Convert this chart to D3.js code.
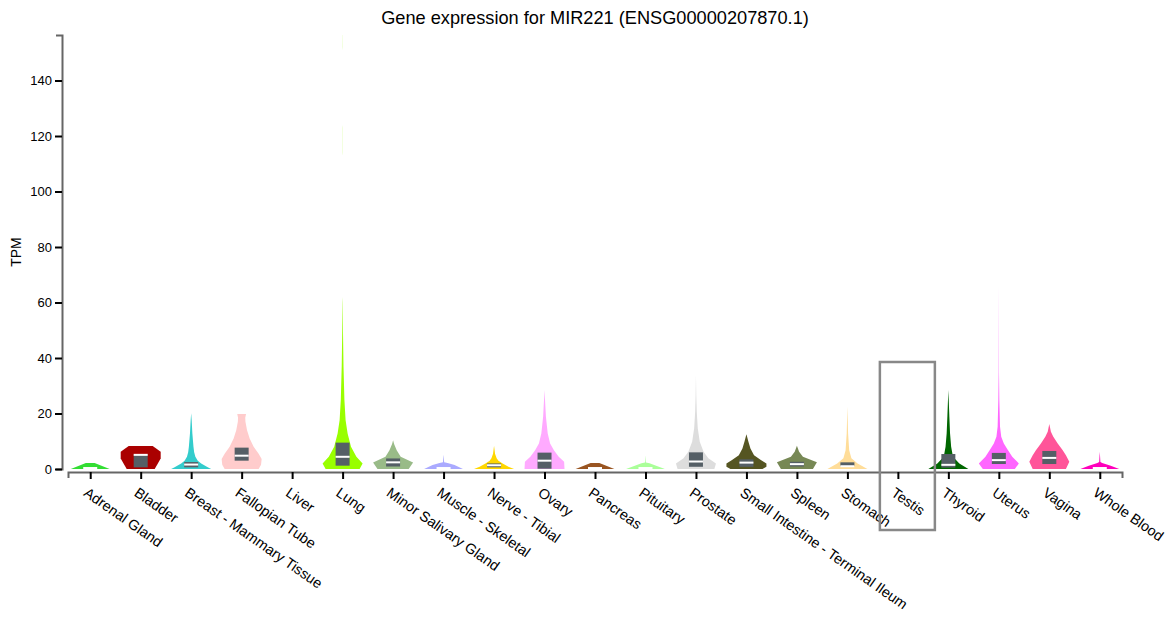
<!DOCTYPE html>
<html>
<head>
<meta charset="utf-8">
<script src="https://cdn.jsdelivr.net/npm/d3@7.9.0/dist/d3.min.js"></script>
<style>
  body { margin: 0; background: #fff; }
  svg { font-family: Arial, "Liberation Sans", sans-serif; }
</style>
</head>
<body>
<svg id="chart" width="1171" height="619"></svg>
<script>
// tissues, in plot order
const tissues = ['Adrenal Gland', 'Bladder', 'Breast - Mammary Tissue', 'Fallopian Tube', 'Liver', 'Lung',
  'Minor Salivary Gland', 'Muscle - Skeletal', 'Nerve - Tibial', 'Ovary', 'Pancreas', 'Pituitary', 'Prostate',
  'Small Intestine - Terminal Ileum', 'Spleen', 'Stomach', 'Testis', 'Thyroid', 'Uterus', 'Vagina', 'Whole Blood'];

const colors = ['#33dd33', '#aa0000', '#33cccc', '#ffcccc', '#aabb66', '#99ff00', '#99bb88', '#aaaaff', '#ffd700',
  '#ffaaff', '#995522', '#aaff99', '#dddddd', '#555522', '#778855', '#ffdd99', '#aaaaaa', '#006600', '#ff66ff',
  '#ff5599', '#ff00bb'];

// box stats (TPM), null = no samples drawn
const q1 =     [0.35, 0.6, 0.6, 3.0, null, 1.2, 0.9, 0.35, 0.6, 0.1, 0.35, 0.35, 0.8, 0.8, 0.9, 1.0, null, 0.5, 1.8, 1.8, 0.35];
const median = [0.35, 5.1, 1.6, 4.8, null, 4.4, 2.4, 0.35, 1.35, 3.0, 0.35, 0.35, 2.7, 2.3, 1.75, 1.0, null, 1.5, 3.2, 4.0, 0.35];
const q3 =     [0.35, 5.4, 2.5, 7.7, null, 9.5, 3.8, 0.35, 2.0, 5.9, 0.35, 0.35, 6.0, 3.5, 2.6, 2.4, null, 5.4, 5.8, 6.5, 0.35];

// violin outlines: [TPM, relative density]
const profiles = [
  [[0, 0.97], [2.2, 0.22]],
  [[0, 0.7], [3.8, 1], [6.2, 1], [8.3, 0.6]],
  [[0, 1], [0.5, 0.85], [2, 0.5], [3, 0.33], [4.4, 0.21], [6, 0.15], [8, 0.115], [12.8, 0.06], [17.6, 0.025], [20.1, 0]],
  [[0, 0.85], [1.5, 0.97], [3.6, 1], [5.5, 0.85], [8, 0.6], [11, 0.4], [14, 0.27], [17, 0.19], [18.5, 0.18], [19.8, 0.22]],
  [],
  [[0, 0.85], [2, 1], [4.4, 0.69], [8, 0.42], [12.8, 0.25], [17.6, 0.15], [25, 0.09], [37, 0.045], [49, 0.02], [60, 0.006],
    [62, 0], [113, 0], [114, 0.003], [123, 0.003], [124, 0], [151, 0], [152, 0.003], [156.4, 0.002]],
  [[0, 0.78], [2.3, 1], [4.4, 0.38], [6.8, 0.18], [9, 0.05], [10.4, 0]],
  [[0, 0.97], [1.4, 0.55], [2.2, 0.2], [2.4, 0.03], [5, 0.003]],
  [[0, 1], [0.8, 0.72], [2, 0.43], [3, 0.22], [3.85, 0.13], [5.5, 0.05], [8.4, 0]],
  [[0, 1], [2.6, 0.98], [4.4, 0.71], [6.8, 0.47], [9.2, 0.28], [12.8, 0.16], [18.8, 0.07], [24.9, 0.025], [28.5, 0]],
  [[0, 0.97], [2.2, 0.22]],
  [[0, 0.97], [2.1, 0.2], [2.3, 0.02], [5, 0]],
  [[0, 0.92], [2, 1], [3.9, 0.62], [6.2, 0.38], [9.8, 0.19], [14.7, 0.09], [20.6, 0.04], [26.7, 0.015], [34, 0]],
  [[0, 0.8], [0.8, 1], [2, 1], [3.2, 0.72], [5, 0.38], [7.4, 0.2], [9.8, 0.1], [12.5, 0]],
  [[0, 0.8], [2.4, 1], [4.4, 0.3], [6.2, 0.11], [8.4, 0]],
  [[0, 1], [2, 0.51], [3.85, 0.2], [6.8, 0.09], [12.8, 0.035], [22.5, 0]],
  [],
  [[0, 1], [2, 0.55], [4.4, 0.23], [8, 0.14], [12.8, 0.085], [18.8, 0.05], [28.5, 0]],
  [[0, 0.8], [2, 1], [4.4, 0.67], [6.8, 0.46], [9.2, 0.25], [11.6, 0.12], [15.2, 0.06], [24.9, 0.025], [35, 0.008], [66, 0]],
  [[0, 0.83], [2.6, 1], [5, 0.83], [6.8, 0.67], [9.2, 0.42], [11.6, 0.2], [13.4, 0.08], [16.2, 0]],
  [[0, 0.97], [1.2, 0.55], [2.2, 0.12], [2.5, 0.03], [6.2, 0]]
];

const yTicks = [0, 20, 40, 60, 80, 100, 120, 140];
const maxTPM = 156.4;
const title = 'Gene expression for MIR221 (ENSG00000207870.1)';
const highlighted = 'Testis';

const svg = d3.select('#chart');

const x = d3.scalePoint().domain(tissues).range([68, 1122]).padding(0.44);
const y = d3.scaleLinear().domain([0, maxTPM]).range([469, 35]);
const w = d3.scaleLinear().domain([0, 1]).range([0, 20]);

svg.append('text')
  .attr('x', 595).attr('y', 24)
  .attr('text-anchor', 'middle')
  .attr('font-size', 18.2)
  .text(title);

// y axis
const yAxis = svg.append('g')
  .attr('transform', 'translate(62,0)')
  .call(d3.axisLeft(y).tickValues(yTicks).tickSize(7).tickSizeOuter(6));
yAxis.select('.domain').attr('stroke', '#666').attr('stroke-width', 2);
yAxis.selectAll('.tick line').attr('stroke', '#000').attr('stroke-width', 2);
yAxis.selectAll('.tick text').attr('font-size', 13).attr('font-family', null).attr('fill', '#000');

svg.append('text')
  .attr('transform', 'translate(21,252) rotate(-90)')
  .attr('text-anchor', 'middle')
  .attr('font-size', 14)
  .text('TPM');

// x axis
const xAxis = svg.append('g')
  .attr('transform', 'translate(0,472)')
  .call(d3.axisBottom(x).tickSize(7).tickSizeOuter(6));
xAxis.select('.domain').attr('stroke', '#666').attr('stroke-width', 2);
xAxis.selectAll('.tick line').attr('stroke', '#000').attr('stroke-width', 2);
xAxis.selectAll('.tick text')
  .attr('font-size', 14.4).attr('font-family', null).attr('fill', '#000')
  .attr('text-anchor', 'start')
  .attr('x', 0).attr('y', 0).attr('dy', null)
  .attr('transform', 'translate(-8,23) rotate(35)');

// violins
const area = d3.area()
  .curve(d3.curveLinear)
  .y(d => y(d[0]));

tissues.forEach((t, i) => {
  const cx = x(t);
  const prof = profiles[i];
  if (prof.length) {
    svg.append('path')
      .datum(prof)
      .attr('fill', colors[i])
      .attr('d', area.x0(d => cx - w(d[1])).x1(d => cx + w(d[1])));
  }
  if (q1[i] != null) {
    svg.append('rect')
      .attr('x', cx - 7).attr('width', 14)
      .attr('y', y(q3[i])).attr('height', y(q1[i]) - y(q3[i]))
      .attr('fill', '#555f66');
    svg.append('line')
      .attr('x1', cx - 7).attr('x2', cx + 7)
      .attr('y1', y(median[i])).attr('y2', y(median[i]))
      .attr('stroke', '#fff').attr('stroke-width', 2);
  }
});

// highlight box around the selected tissue
const hx = x(highlighted);
svg.append('rect')
  .attr('x', hx - 18).attr('y', 362)
  .attr('width', 55).attr('height', 168)
  .attr('fill', 'none')
  .attr('stroke', '#888')
  .attr('stroke-width', 2.5);
</script>
</body>
</html>
